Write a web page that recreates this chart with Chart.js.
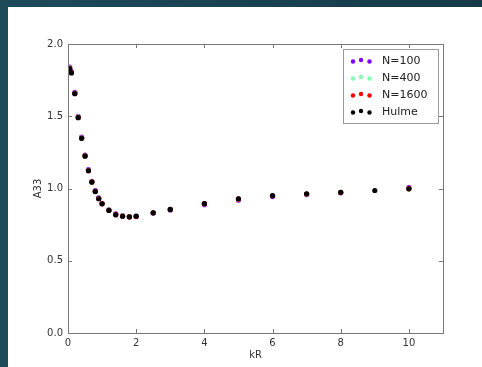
<!DOCTYPE html>
<html>
<head>
<meta charset="utf-8">
<script src="https://cdn.jsdelivr.net/npm/chart.js@4/dist/chart.umd.min.js"></script>
<style>
  html, body { margin: 0; padding: 0; background: #fff; }
  #wrap { position: relative; width: 482px; height: 367px; }
</style>
</head>
<body>
<div id="wrap"><canvas id="chart" width="482" height="367"></canvas></div>
<script>
// values
const hulmeKR = [0.05, 0.1, 0.2, 0.3, 0.4, 0.5, 0.6, 0.7, 0.8, 0.9, 1.0, 1.2, 1.4, 1.6, 1.8, 2.0, 2.5, 3, 4, 5, 6, 7, 8, 9, 10];
const hulmeA33 = [1.83, 1.80, 1.656, 1.49, 1.347, 1.224, 1.123, 1.044, 0.979, 0.929, 0.894, 0.848, 0.818, 0.808, 0.804, 0.808, 0.832, 0.855, 0.896, 0.929, 0.951, 0.963, 0.974, 0.986, 0.998];

const simKR = [0.05, 0.1, 0.2, 0.3, 0.4, 0.5, 0.6, 0.7, 0.8, 0.9, 1.0, 1.2, 1.4, 1.6, 1.8, 2.0, 2.5, 3, 4, 5, 6, 7, 8, 10];
const n100A33 = [1.84, 1.81, 1.665, 1.50, 1.355, 1.232, 1.13, 1.05, 0.985, 0.935, 0.898, 0.852, 0.824, 0.812, 0.806, 0.81, 0.83, 0.852, 0.888, 0.92, 0.944, 0.958, 0.97, 1.006];
const n400A33 = [1.835, 1.805, 1.66, 1.495, 1.35, 1.228, 1.126, 1.047, 0.981, 0.931, 0.896, 0.85, 0.82, 0.81, 0.806, 0.81, 0.832, 0.855, 0.894, 0.927, 0.95, 0.962, 0.973, 0.999];
const n1600A33 = [1.832, 1.802, 1.658, 1.492, 1.348, 1.226, 1.124, 1.046, 0.98, 0.93, 0.895, 0.849, 0.819, 0.809, 0.803, 0.806, 0.832, 0.855, 0.895, 0.928, 0.95, 0.962, 0.973, 0.999];

const xTicks = [0, 2, 4, 6, 8, 10];
const yTicks = [0.0, 0.5, 1.0, 1.5, 2.0];

const toPts = (xs, ys) => xs.map((x, i) => ({ x: x, y: ys[i] }));

const FONT = "'DejaVu Sans', sans-serif";
const AXIS_COLOR = '#777';

// dark strips on left and top, frame with inward ticks, legend in the corner
const framePlugin = {
  id: 'frame',
  beforeDraw(chart) {
    const ctx = chart.ctx;
    ctx.save();
    const g = ctx.createLinearGradient(0, 0, 482, 0);
    g.addColorStop(0, '#1d4a59');
    g.addColorStop(1, '#163a4a');
    ctx.fillStyle = g;
    ctx.fillRect(0, 0, 482, 7);
    ctx.fillStyle = '#1d4b59';
    ctx.fillRect(0, 0, 8, 367);
    ctx.restore();
  },
  afterDraw(chart) {
    const ctx = chart.ctx;
    const a = chart.chartArea;
    const xs = chart.scales.x, ys = chart.scales.y;
    ctx.save();
    ctx.strokeStyle = AXIS_COLOR;
    ctx.lineWidth = 1;
    ctx.strokeRect(Math.round(a.left) + 0.5, Math.round(a.top) + 0.5,
      Math.round(a.right - a.left), Math.round(a.bottom - a.top));
    ctx.beginPath();
    xTicks.forEach(v => {
      const px = Math.round(xs.getPixelForValue(v)) + 0.5;
      ctx.moveTo(px, a.bottom); ctx.lineTo(px, a.bottom - 4);
      ctx.moveTo(px, a.top); ctx.lineTo(px, a.top + 4);
    });
    yTicks.forEach(v => {
      const py = Math.round(ys.getPixelForValue(v)) + 0.5;
      ctx.moveTo(a.left, py); ctx.lineTo(a.left + 4, py);
      ctx.moveTo(a.right, py); ctx.lineTo(a.right - 4, py);
    });
    ctx.stroke();

    // legend box
    const bx = 343.5, by = 49.5, bw = 95, bh = 74;
    ctx.fillStyle = '#fff';
    ctx.fillRect(bx, by, bw, bh);
    ctx.strokeStyle = '#999';
    ctx.strokeRect(bx, by, bw, bh);
    const dotDy = [0.5, -1, 0.5];
    chart.data.datasets.forEach((ds, i) => {
      const cy = 61 + i * 17;
      ctx.fillStyle = ds.backgroundColor;
      [353, 361, 369.5].forEach((dx, k) => {
        ctx.beginPath();
        ctx.arc(dx, cy + dotDy[k], 2.2, 0, Math.PI * 2);
        ctx.fill();
      });
      ctx.fillStyle = '#222';
      ctx.font = '11px ' + FONT;
      ctx.textBaseline = 'middle';
      ctx.textAlign = 'left';
      ctx.fillText(ds.label, 382, cy + 0.5);
    });
    ctx.restore();
  }
};

const mkSet = (label, pts, color, order) => ({
  label: label,
  data: pts,
  backgroundColor: color,
  borderColor: color,
  pointRadius: 2.6,
  pointBorderWidth: 0,
  order: order
});

new Chart(document.getElementById('chart').getContext('2d'), {
  type: 'scatter',
  data: {
    datasets: [
      mkSet('N=100', toPts(simKR, n100A33), '#8000ff', 3),
      mkSet('N=400', toPts(simKR, n400A33), '#80ffb4', 2),
      mkSet('N=1600', toPts(simKR, n1600A33), '#ff0000', 1),
      mkSet('Hulme', toPts(hulmeKR, hulmeA33), '#000000', 0)
    ]
  },
  options: {
    responsive: false,
    animation: false,
    layout: { padding: { left: 0, top: 44, right: 39, bottom: 0 } },
    plugins: { legend: { display: false }, tooltip: { enabled: false } },
    scales: {
      x: {
        type: 'linear',
        min: 0, max: 11,
        afterBuildTicks: s => { s.ticks = xTicks.map(v => ({ value: v })); },
        afterFit: s => { s.height = 34; },
        grid: { display: false, drawTicks: false },
        border: { display: false },
        ticks: { padding: 4, color: '#333', font: { family: FONT, size: 10 }, maxRotation: 0 },
        title: { display: true, text: 'kR', color: '#333', font: { family: FONT, size: 10 }, padding: { top: 0, bottom: 6 } }
      },
      y: {
        type: 'linear',
        min: 0, max: 2,
        afterBuildTicks: s => { s.ticks = yTicks.map(v => ({ value: v })); },
        afterFit: s => { s.width = 68; },
        grid: { display: false, drawTicks: false },
        border: { display: false },
        ticks: { padding: 5, color: '#333', font: { family: FONT, size: 10 }, callback: v => v.toFixed(1) },
        title: { display: true, text: 'A33', color: '#333', font: { family: FONT, size: 10 }, padding: { top: 32, bottom: 0 } }
      }
    }
  },
  plugins: [framePlugin]
});
</script>
</body>
</html>
